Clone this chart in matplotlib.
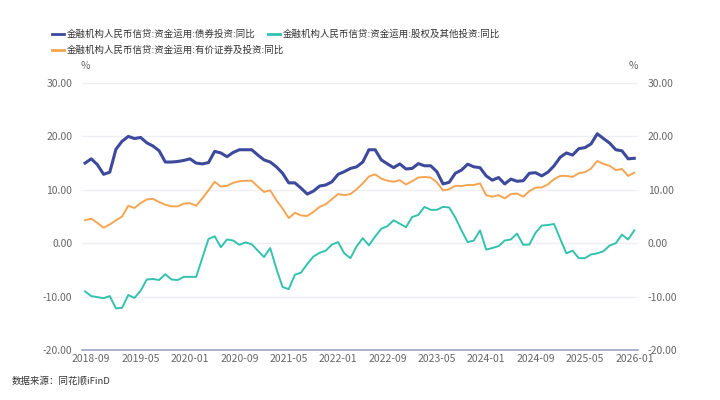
import matplotlib
matplotlib.use("Agg")
import matplotlib.pyplot as plt
import pandas as pd

plt.rcParams['font.family'] = ['Noto Sans CJK SC', 'DejaVu Sans']

# monthly, 2018-08 .. 2026-01
months = pd.period_range("2018-08", "2026-01", freq="M").strftime("%Y-%m").tolist()
tick_labels = ["2018-09", "2019-05", "2020-01", "2020-09", "2021-05", "2022-01",
               "2022-09", "2023-05", "2024-01", "2024-09", "2025-05", "2026-01"]

bond = [15.0, 15.8, 14.7, 12.9, 13.3, 17.6, 19.1, 20.0, 19.6, 19.8,
        18.8, 18.2, 17.3, 15.2, 15.2, 15.3, 15.5, 15.8, 15.0, 14.85,
        15.1, 17.2, 16.9, 16.2, 17.0, 17.5, 17.5, 17.5, 16.5, 15.6,
        15.2, 14.3, 13.1, 11.3, 11.3, 10.3, 9.2, 9.75, 10.7, 10.9,
        11.5, 12.9, 13.4, 14.0, 14.3, 15.2, 17.5, 17.5, 15.6, 14.85,
        14.15, 14.85, 13.9, 14.0, 14.9, 14.5, 14.5, 13.4, 11.1, 11.4,
        13.1, 13.7, 14.8, 14.3, 14.15, 12.6, 11.8, 12.3, 11.1, 12.0,
        11.6, 11.7, 13.1, 13.2, 12.6, 13.3, 14.5, 16.1, 16.9, 16.5,
        17.7, 17.9, 18.6, 20.5, 19.6, 18.75, 17.5, 17.3, 15.8, 15.9]

equity = [-9.05, -9.9, -10.1, -10.3, -9.9, -12.2, -12.1, -9.7, -10.25, -8.9,
          -6.8, -6.7, -6.9, -5.8, -6.8, -6.9, -6.3, -6.3, -6.3, -2.75,
          0.8, 1.3, -0.75, 0.7, 0.5, -0.3, 0.15, -0.2, -1.4, -2.6,
          -0.9, -4.8, -8.2, -8.6, -5.9, -5.5, -3.9, -2.5, -1.8, -1.4,
          -0.25, 0.2, -1.9, -2.8, -0.6, 0.95, -0.4, 1.25, 2.7, 3.2,
          4.3, 3.65, 3.0, 4.9, 5.3, 6.8, 6.25, 6.25, 6.8, 6.7,
          4.8, 2.4, 0.2, 0.5, 2.4, -1.2, -0.9, -0.55, 0.5, 0.7,
          1.8, -0.3, -0.25, 1.95, 3.3, 3.4, 3.6, 0.8, -1.9, -1.4,
          -2.8, -2.8, -2.1, -1.9, -1.5, -0.45, 0.0, 1.6, 0.7, 2.4]

securities = [4.3, 4.6, 3.8, 2.9, 3.5, 4.3, 5.0, 7.0, 6.6, 7.5,
              8.2, 8.3, 7.7, 7.2, 6.9, 6.9, 7.4, 7.5, 7.0, 8.4,
              9.9, 11.5, 10.6, 10.75, 11.3, 11.6, 11.7, 11.7, 10.6, 9.6,
              9.9, 8.05, 6.5, 4.7, 5.7, 5.2, 5.1, 5.85, 6.8, 7.3,
              8.25, 9.2, 9.0, 9.2, 10.1, 11.2, 12.5, 12.9, 12.1, 11.7,
              11.5, 11.8, 11.0, 11.6, 12.3, 12.4, 12.3, 11.4, 9.9, 10.1,
              10.75, 10.7, 10.9, 10.9, 11.2, 9.0, 8.7, 9.0, 8.4, 9.2,
              9.3, 8.7, 9.75, 10.4, 10.45, 11.0, 12.0, 12.6, 12.6, 12.4,
              13.1, 13.3, 14.0, 15.4, 14.85, 14.5, 13.7, 13.9, 12.6, 13.2]

names = ["金融机构人民币信贷:资金运用:债券投资:同比",
         "金融机构人民币信贷:资金运用:股权及其他投资:同比",
         "金融机构人民币信贷:资金运用:有价证券及投资:同比"]
colors = ["#3d4a9c", "#33c2ae", "#f5a552"]

fig = plt.figure(figsize=(7.2, 4.0), dpi=100)
ax = fig.add_axes([82 / 720, 1 - 350 / 400, 556 / 720, 267 / 400])

x = list(range(len(months)))
ax.plot(x, equity, color=colors[1], lw=1.4, zorder=3)
ax.plot(x, securities, color=colors[2], lw=1.4, zorder=3)
ax.plot(x, bond, color=colors[0], lw=2.2, zorder=4)

ax.set_xlim(-0.5, len(months) - 0.4)
ax.set_ylim(-20, 30)
ax.set_yticks([-20, -10, 0, 10, 20, 30])
ax.set_yticklabels(["%.2f" % v for v in [-20, -10, 0, 10, 20, 30]])
ax.set_xticks([months.index(t) for t in tick_labels])
ax.set_xticklabels(tick_labels)

for s in ["top", "left", "right"]:
    ax.spines[s].set_visible(False)
ax.spines["bottom"].set_color("#9aa6c8")
ax.spines["bottom"].set_linewidth(1.2)
ax.grid(axis="y", color="#eeeef4", lw=1.0)
ax.set_axisbelow(True)
ax.tick_params(axis="y", length=0, pad=7, labelsize=7.5, colors="#666666",
               labelright=True)
ax.tick_params(axis="x", length=0, pad=3, labelsize=7.5, colors="#666666")

fig.text(85 / 720, 1 - 66 / 400, "%", fontsize=7.5, color="#666666",
         ha="center", va="center")
fig.text(633 / 720, 1 - 66 / 400, "%", fontsize=7.5, color="#666666",
         ha="center", va="center")

# legend, drawn by hand in two rows
legend_pos = [(52, 34), (268, 34), (52, 50)]
for (lx, ly), name, c in zip(legend_pos, names, colors):
    fig.add_artist(plt.Line2D([lx / 720, (lx + 12) / 720],
                              [1 - ly / 400, 1 - ly / 400],
                              color=c, lw=2.0))
    fig.text((lx + 15) / 720, 1 - ly / 400, name, fontsize=6.8,
             color="#333333", va="center", ha="left")

fig.text(12 / 720, 1 - 381 / 400, "数据来源：同花顺iFinD", fontsize=6.8,
         color="#333333", va="center", ha="left")

fig.savefig("out.png", dpi=100)
